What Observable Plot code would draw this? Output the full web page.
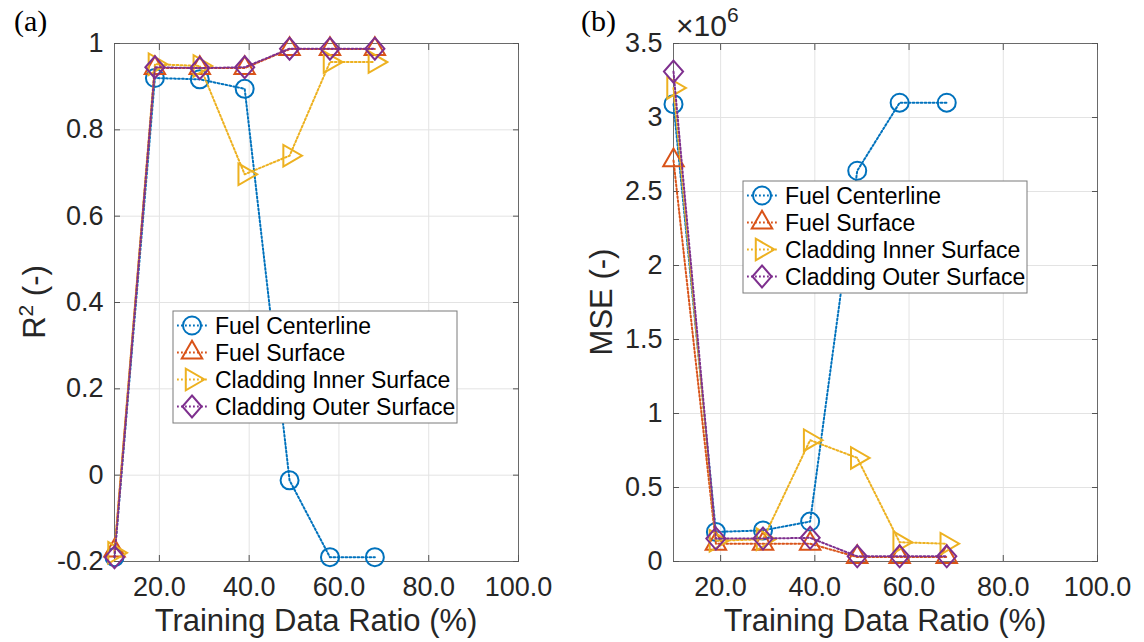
<!DOCTYPE html>
<html>
<head>
<meta charset="utf-8">
<script src="https://cdn.jsdelivr.net/npm/d3@7"></script>
<script src="https://cdn.jsdelivr.net/npm/@observablehq/plot@0.6"></script>
<style>
  html, body { margin: 0; padding: 0; background: #fff; }
  #wrap { position: relative; width: 1144px; height: 642px; overflow: hidden; background: #fff;
          font-family: "Liberation Sans", Arial, Helvetica, sans-serif; }
  .panel { position: absolute; top: 0; }
  #overlay { position: absolute; left: 0; top: 0; pointer-events: none; }
</style>
</head>
<body>
<div id="wrap"></div>
<script>
// ---------------- data ----------------
const ratios = [10, 19, 29, 39, 49, 58, 68];
const seriesNames = ["Fuel Centerline", "Fuel Surface", "Cladding Inner Surface", "Cladding Outer Surface"];

// (a) R^2
const r2FuelCenterline = [-0.19, 0.92, 0.917, 0.895, -0.012, -0.19, -0.19];
const r2FuelSurface    = [-0.175, 0.943, 0.943, 0.943, 0.987, 0.987, 0.987];
const r2CladInner      = [-0.18, 0.952, 0.948, 0.697, 0.74, 0.957, 0.957];
const r2CladOuter      = [-0.19, 0.945, 0.943, 0.945, 0.988, 0.988, 0.988];

// (b) MSE
const mseFuelCenterline = [3.09e6, 0.20e6, 0.21e6, 0.27e6, 2.64e6, 3.10e6, 3.10e6];
const mseFuelSurface    = [2.71e6, 0.12e6, 0.12e6, 0.12e6, 0.03e6, 0.03e6, 0.03e6];
const mseCladInner      = [3.20e6, 0.14e6, 0.15e6, 0.82e6, 0.70e6, 0.13e6, 0.12e6];
const mseCladOuter      = [3.31e6, 0.155e6, 0.155e6, 0.16e6, 0.035e6, 0.035e6, 0.035e6];

// ticks
const xTicks = [20, 40, 60, 80, 100];
const xTickLabels = ["20.0", "40.0", "60.0", "80.0", "100.0"];
const r2Ticks = [-0.2, 0, 0.2, 0.4, 0.6, 0.8, 1];
const r2TickLabels = ["-0.2", "0", "0.2", "0.4", "0.6", "0.8", "1"];
const mseTicks = [0, 0.5e6, 1e6, 1.5e6, 2e6, 2.5e6, 3e6, 3.5e6];
const mseTickLabels = ["0", "0.5", "1", "1.5", "2", "2.5", "3", "3.5"];

// ---------------- styles ----------------
const colors = ["#0072BD", "#D95319", "#EDB120", "#7E2F8E"];
const diamondTall = {
  draw(ctx, size) {
    const s = Math.sqrt(size);
    const w = s * 0.6, h = s * 0.69;
    ctx.moveTo(0, -h); ctx.lineTo(w, 0); ctx.lineTo(0, h); ctx.lineTo(-w, 0); ctx.closePath();
  }
};
const symbols = ["circle", "triangle", "triangle", diamondTall];
const rotations = [0, 0, 90, 0];
const radii = [9, 7.6, 8, 9];
const dash = "1.8 2.2";
const FONT = '"Liberation Sans", Arial, Helvetica, sans-serif';

const wrap = document.getElementById("wrap");

function makePanel(valuesList, yDomain, yTicks, yTickLabels, left, marginLeft, marginRight) {
  const marks = [
    Plot.gridX(xTicks, {stroke: "#e3e3e3", strokeOpacity: 1, strokeWidth: 1}),
    Plot.gridY(yTicks, {stroke: "#e3e3e3", strokeOpacity: 1, strokeWidth: 1}),
    Plot.frame({stroke: "#6a6a6a", strokeWidth: 1}),
    Plot.axisX(xTicks, {anchor: "bottom", tickSize: -6, tickFormat: () => "", label: null, stroke: "#555"}),
    Plot.axisX(xTicks, {anchor: "top", tickSize: -6, tickFormat: () => "", label: null, stroke: "#555"}),
    Plot.axisY(yTicks, {anchor: "left", tickSize: -6, tickFormat: () => "", label: null, stroke: "#555"}),
    Plot.axisY(yTicks, {anchor: "right", tickSize: -6, tickFormat: () => "", label: null, stroke: "#555"}),
    Plot.axisX(xTicks, {anchor: "bottom", tickSize: 0, tickPadding: 15, label: null,
      tickFormat: d => xTickLabels[xTicks.indexOf(d)], fontSize: 27, fill: "#262626"}),
    Plot.axisY(yTicks, {anchor: "left", tickSize: 0, tickPadding: 11, label: null,
      tickFormat: d => yTickLabels[yTicks.findIndex(t => Math.abs(t - d) < 1e-9)], fontSize: 27, fill: "#262626"})
  ];
  seriesNames.forEach((name, i) => {
    const rows = ratios.map((x, j) => ({series: name, x, y: valuesList[i][j]}));
    marks.push(Plot.line(rows, {x: "x", y: "y", stroke: colors[i], strokeWidth: 2, strokeDasharray: dash}));
    marks.push(Plot.dot(rows, {x: "x", y: "y", stroke: colors[i], fill: "none", strokeWidth: 2,
      r: radii[i], symbol: symbols[i], rotate: rotations[i]}));
  });
  const svg = Plot.plot({
    width: 572, height: 642,
    marginLeft, marginRight, marginTop: 43, marginBottom: 81,
    style: {fontFamily: FONT, background: "transparent", overflow: "visible"},
    x: {domain: [10, 100]},
    y: {domain: yDomain},
    marks
  });
  svg.classList.add("panel");
  svg.style.left = left + "px";
  wrap.appendChild(svg);
}

makePanel([r2FuelCenterline, r2FuelSurface, r2CladInner, r2CladOuter], [-0.2, 1], r2Ticks, r2TickLabels, 0, 114, 54);
makePanel([mseFuelCenterline, mseFuelSurface, mseCladInner, mseCladOuter], [0, 3.5e6], mseTicks, mseTickLabels, 572, 101, 47);

// ---------------- overlay text & legends ----------------
const ov = d3.select(wrap).append("svg").attr("id", "overlay").attr("width", 1144).attr("height", 642)
  .style("font-family", FONT);

// panel tags
ov.append("text").attr("x", 14).attr("y", 31).attr("font-family", '"Liberation Serif", "Times New Roman", serif')
  .attr("font-size", 30).attr("fill", "#000").text("(a)");
ov.append("text").attr("x", 581).attr("y", 31).attr("font-family", '"Liberation Serif", "Times New Roman", serif')
  .attr("font-size", 30).attr("fill", "#000").text("(b)");

// x labels
[[316, 631], [885, 631]].forEach(([x, y]) => {
  ov.append("text").attr("x", x).attr("y", y).attr("text-anchor", "middle").attr("font-size", 31)
    .attr("fill", "#262626").text("Training Data Ratio (%)");
});

// y labels
const yl1 = ov.append("text").attr("transform", "translate(45,302) rotate(-90)").attr("text-anchor", "middle")
  .attr("font-size", 31).attr("fill", "#262626");
yl1.append("tspan").text("R");
yl1.append("tspan").attr("dy", -12).attr("font-size", 21).text("2");
yl1.append("tspan").attr("dy", 12).text(" (-)");

ov.append("text").attr("transform", "translate(612,302) rotate(-90)").attr("text-anchor", "middle")
  .attr("font-size", 31).attr("fill", "#262626").text("MSE (-)");

// exponent
const ex = ov.append("text").attr("x", 676).attr("y", 36).attr("font-size", 30).attr("fill", "#262626");
ex.append("tspan").text("\u00d710");
ex.append("tspan").attr("dy", -14).attr("font-size", 21).text("6");

// legends
function legend(x0, y0) {
  const g = ov.append("g").attr("transform", `translate(${x0},${y0})`);
  g.append("rect").attr("x", 0).attr("y", 0).attr("width", 284).attr("height", 112)
    .attr("fill", "#fff").attr("stroke", "#7a7a7a").attr("stroke-width", 1);
  seriesNames.forEach((name, i) => {
    const cy = 14.5 + 27 * i;
    g.append("line").attr("x1", 4).attr("x2", 34).attr("y1", cy).attr("y2", cy)
      .attr("stroke", colors[i]).attr("stroke-width", 2).attr("stroke-dasharray", dash);
    const type = typeof symbols[i] === "string"
      ? (symbols[i] === "circle" ? d3.symbolCircle : d3.symbolTriangle) : symbols[i];
    g.append("path").attr("d", d3.symbol().type(type).size(Math.PI * radii[i] * radii[i])())
      .attr("transform", `translate(19,${cy}) rotate(${rotations[i]})`)
      .attr("fill", "none").attr("stroke", colors[i]).attr("stroke-width", 2);
    g.append("text").attr("x", 42).attr("y", cy + 8).attr("font-size", 23).attr("fill", "#000").text(name);
  });
}
legend(173, 311);
legend(743, 181);
</script>
</body>
</html>
